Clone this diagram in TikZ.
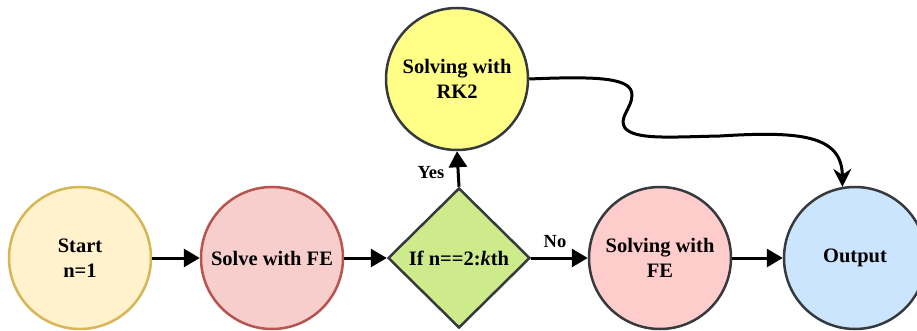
\documentclass[tikz,border=0pt]{standalone}
\usepackage{fontspec}
\setmainfont{Liberation Serif}
\usetikzlibrary{shapes.geometric,arrows.meta}
\definecolor{startfill}{HTML}{FFF2CC}
\definecolor{startdraw}{HTML}{D6B656}
\definecolor{fefill}{HTML}{F8CECC}
\definecolor{fedraw}{HTML}{B85450}
\definecolor{darkdraw}{HTML}{36393D}
\definecolor{diafill}{HTML}{CDEB8B}
\definecolor{rkfill}{HTML}{FFFF88}
\definecolor{fetwofill}{HTML}{FFCCCC}
\definecolor{outfill}{HTML}{CCE5FF}
\tikzset{
  circnode/.style={circle, minimum size=142pt, inner sep=0pt, line width=2.5pt, align=center, font=\fontsize{20.5}{25}\selectfont\bfseries},
  dianode/.style={diamond, minimum width=142pt, minimum height=140pt, inner sep=0pt, line width=2.5pt, align=center, font=\fontsize{20.5}{25}\selectfont\bfseries, draw=darkdraw, fill=diafill},
  flow/.style={line width=3pt, -{Triangle[length=16pt,width=18pt]}},
  lbl/.style={font=\fontsize{18.5}{22}\selectfont\bfseries, inner sep=0pt}
}
\begin{document}
\begin{tikzpicture}[x=1pt,y=-1pt]
\useasboundingbox (0,0) rectangle (917,331);
\node[circnode, draw=startdraw, fill=startfill] (start) at (80,258) {Start\\n=1};
\node[circnode, draw=fedraw, fill=fefill] (fe1) at (272,258) {Solve with FE};
\node[dianode] (dec) at (459,258) {If n==2:\textit{k}th};
\node[circnode, draw=darkdraw, fill=rkfill] (rk) at (457,79) {Solving with\\RK2};
\node[circnode, draw=darkdraw, fill=fetwofill] (fe2) at (660,258) {Solving with\\FE};
\node[circnode, draw=darkdraw, fill=outfill] (out) at (855,258) {Output};
\draw[flow] (start) -- (fe1);
\draw[flow] (fe1) -- (dec);
\draw[flow] (dec.north) -- (rk.south);
\draw[flow] (dec.east) -- (fe2.west);
\draw[flow] (fe2) -- (out);
\draw[line width=3pt, -{Stealth[length=18pt,width=18pt,inset=6pt]}]
  (rk.east) .. controls (600,76) and (632,78) .. (632,95)
  .. controls (632,108) and (618,118) .. (625,128)
  .. controls (635,140) and (670,137) .. (720,136)
  .. controls (800,131) and (842,135) .. (out.100);
\node[lbl] (yes) at (431,173) {Yes};
\node[lbl] (no) at (555,242) {No};
\end{tikzpicture}
\end{document}
